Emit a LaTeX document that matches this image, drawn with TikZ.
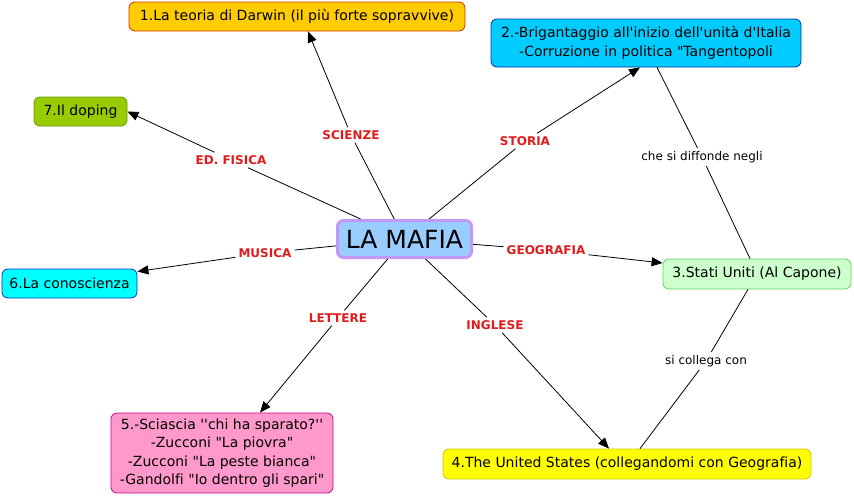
\documentclass[tikz,border=0pt]{standalone}
\usepackage{fontspec}
\newfontfamily\verd{DejaVu Sans}[Ligatures=CommonOff]
\usetikzlibrary{arrows.meta,positioning}
\definecolor{mafiafill}{HTML}{99CCFF}
\definecolor{mafialine}{HTML}{C399F5}
\definecolor{darwinfill}{HTML}{FFCC00}
\definecolor{darwinline}{HTML}{CC3300}
\definecolor{storiafill}{HTML}{00CCFF}
\definecolor{storialine}{HTML}{003399}
\definecolor{dopingfill}{HTML}{99CC00}
\definecolor{dopingline}{HTML}{669900}
\definecolor{conofill}{HTML}{00FFFF}
\definecolor{conoline}{HTML}{0033CC}
\definecolor{usafill}{HTML}{CCFFCC}
\definecolor{usaline}{HTML}{66CC66}
\definecolor{ingfill}{HTML}{FFFF00}
\definecolor{ingline}{HTML}{CCCC00}
\definecolor{letfill}{HTML}{FF99CC}
\definecolor{letline}{HTML}{CC0099}
\definecolor{linkred}{HTML}{E01B1B}

\begin{document}
\begin{tikzpicture}[x=1pt,y=-1pt,
    concept/.style={draw,rounded corners=6pt,line width=0.8pt,align=center,
      inner sep=2pt,font=\verd\fontsize{14}{18.5}\selectfont},
    link/.style={inner sep=3pt,text=linkred,font=\verd\bfseries\fontsize{12}{14}\selectfont},
    phrase/.style={inner sep=3pt,font=\verd\fontsize{12}{14}\selectfont},
    conn/.style={line width=0.8pt},
    arr/.style={conn,-{Triangle[length=11pt,width=9pt]}}]
  \useasboundingbox (0,0) rectangle (854,496);

  % concepts
  \node[concept,fill=mafiafill,draw=mafialine,line width=3pt,minimum width=134pt,
    minimum height=37pt,font=\verd\fontsize{25}{29}\selectfont] (mafia) at (404.5,239) {LA MAFIA};
  \node[concept,fill=darwinfill,draw=darwinline,minimum width=336pt,minimum height=29pt]
    (darwin) at (297,16.5) {1.La teoria di Darwin (il più forte sopravvive)};
  \node[concept,fill=storiafill,draw=storialine,minimum width=310pt,minimum height=48pt]
    (storia) at (646,43) {2.-Brigantaggio all'inizio dell'unità d'Italia\\-Corruzione in politica "Tangentopoli};
  \node[concept,fill=dopingfill,draw=dopingline,minimum width=93pt,minimum height=29pt]
    (doping) at (80.5,111.5) {7.Il doping};
  \node[concept,fill=conofill,draw=conoline,minimum width=135pt,minimum height=29pt]
    (cono) at (69.5,283.5) {6.La conoscienza};
  \node[concept,fill=usafill,draw=usaline,minimum width=188pt,minimum height=30pt]
    (usa) at (757,274) {3.Stati Uniti (Al Capone)};
  \node[concept,fill=ingfill,draw=ingline,minimum width=368pt,minimum height=30pt]
    (states) at (627,464) {4.The United States (collegandomi con Geografia)};
  \node[concept,fill=letfill,draw=letline,minimum width=222pt,minimum height=80pt]
    (libri) at (222,453) {5.-Sciascia ''chi ha sparato?''\\-Zucconi "La piovra"\\-Zucconi "La peste bianca"\\-Gandolfi "Io dentro gli spari"};

  % linking phrases
  \node[link] (scienze) at (351,135) {SCIENZE};
  \node[link] (storial) at (525,141) {STORIA};
  \node[link] (fisica) at (231,160) {ED. FISICA};
  \node[link] (musica) at (265,253) {MUSICA};
  \node[link] (geo) at (546,250) {GEOGRAFIA};
  \node[link] (lettere) at (338,318) {LETTERE};
  \node[link] (inglese) at (495,325) {INGLESE};
  \node[phrase] (diffonde) at (702,157) {che si diffonde negli};
  \node[phrase] (collega) at (706,361) {si collega con};

  \draw[conn] (mafia) -- (scienze);
  \draw[arr] (scienze) -- ([xshift=11pt]darwin.south);
  \draw[conn] (mafia) -- (storial);
  \draw[arr] (storial) -- ([xshift=-6pt]storia.south);
  \draw[conn] (mafia) -- (fisica);
  \draw[arr] (fisica) -- (doping.east);
  \draw[conn] (mafia) -- (musica);
  \draw[arr] (musica) -- ([yshift=12pt]cono.east);
  \draw[conn] (mafia) -- (geo);
  \draw[arr] (geo) -- ([yshift=11pt]usa.west);
  \draw[conn] (mafia) -- (lettere);
  \draw[arr] (lettere) -- ([xshift=38pt]libri.north);
  \draw[conn] (mafia) -- (inglese);
  \draw[arr] (inglese) -- ([xshift=-18pt]states.north);

  \draw[conn] ([xshift=11pt]storia.south) -- (diffonde) -- ([xshift=-7pt]usa.north);
  \draw[conn] ([xshift=-9pt]usa.south) -- (collega) -- ([xshift=13pt]states.north);
\end{tikzpicture}
\end{document}
